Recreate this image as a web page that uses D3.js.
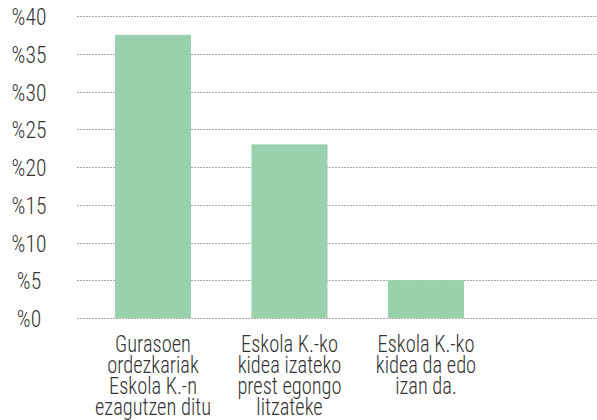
<!DOCTYPE html>
<html><head><meta charset="utf-8">
<script src="https://cdn.jsdelivr.net/npm/d3@7"></script>
<style>body{margin:0;background:#fff}svg{display:block}
text{font-family:"Roboto Condensed",Roboto,sans-serif;font-weight:300;fill:#333}</style>
</head><body><svg id="c" width="597" height="420"></svg>
<script>
const categories = [
  ["Gurasoen","ordezkariak","Eskola K.-n","ezagutzen ditu"],
  ["Eskola K.-ko","kidea izateko","prest egongo","litzateke"],
  ["Eskola K.-ko","kidea da edo","izan da."]
];
const values = [37.5, 23.0, 5.0];
const yTicks = [0,5,10,15,20,25,30,35,40];
const tickLabels = ["%0","%5","%10","%15","%20","%25","%30","%35","%40"];

const svg = d3.select("#c");
const x = d3.scaleBand().domain(d3.range(categories.length)).range([84.75, 494.25]).paddingInner(0.443).paddingOuter(0.2215);
const y = d3.scaleLinear().domain([0,40]).range([318, 16]);

svg.append("g").selectAll("line").data(yTicks).join("line")
  .attr("x1",77).attr("x2",597).attr("y1",d=>Math.round(y(d))+0.5).attr("y2",d=>Math.round(y(d))+0.5)
  .attr("stroke","#a8a8a8").attr("stroke-width",1).attr("stroke-dasharray","2,1");

svg.append("g").selectAll("rect").data(values).join("rect")
  .attr("x",(d,i)=>x(i)).attr("width",x.bandwidth())
  .attr("y",d=>y(d)).attr("height",d=>y(0)-y(d)).attr("fill","#9ad1ad");

svg.append("g").selectAll("text").data(yTicks).join("text")
  .attr("transform",d=>`translate(29,${y(d)+9}) scale(0.9,1)`)
  .attr("text-anchor","middle").attr("font-size",24)
  .text((d,i)=>tickLabels[i]);

const g = svg.append("g");
categories.forEach((lines,i)=>{
  const cg = g.append("g").attr("transform",`translate(${x(i)+x.bandwidth()/2},0) scale(0.87,1)`);
  lines.forEach((l,j)=>cg.append("text").attr("x",0).attr("y",352.5+j*20.9)
    .attr("text-anchor","middle").attr("font-size",23.5).text(l));
});
</script></body></html>
